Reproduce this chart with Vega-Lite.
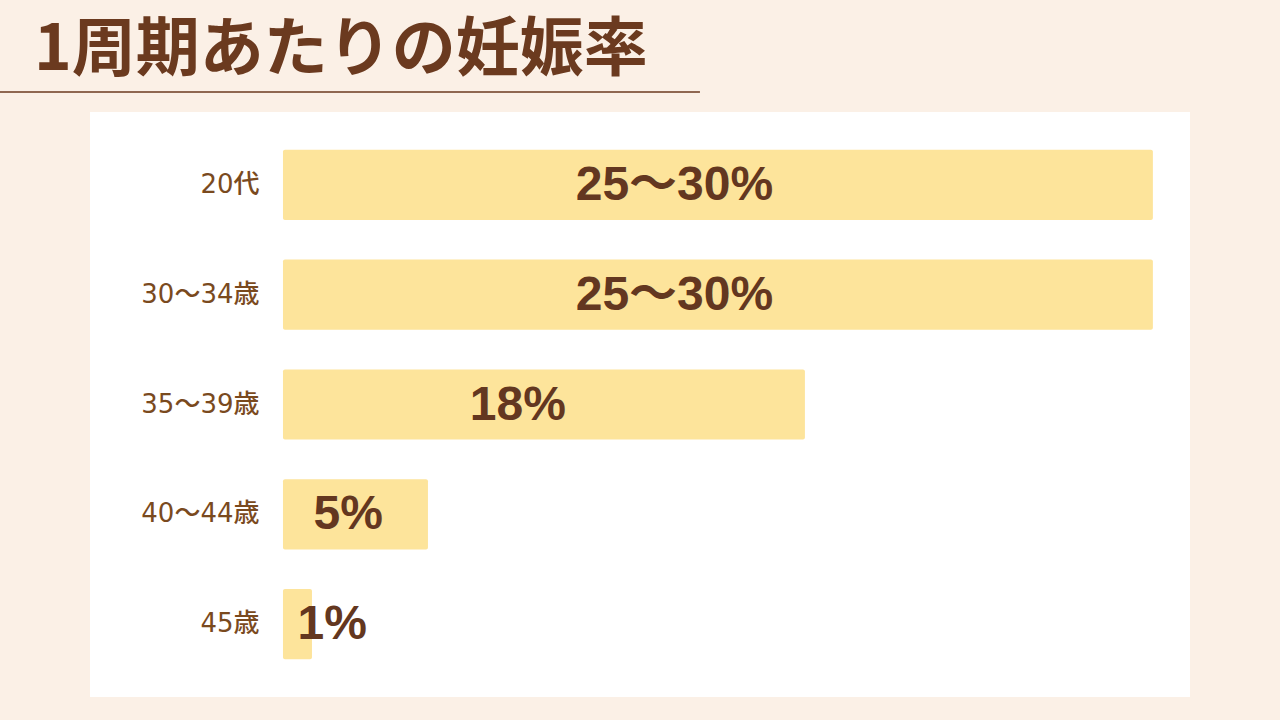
{
  "$schema": "https://vega.github.io/schema/vega-lite/v6.json",
  "autosize": "none",
  "width": 1100,
  "height": 585,
  "padding": {"left": 90, "top": 112, "right": 90, "bottom": 23},
  "background": "#FBF0E6",
  "view": {"fill": "#FFFFFF", "stroke": null},
  "title": {
    "text": "1周期あたりの妊娠率",
    "anchor": "start",
    "frame": "group",
    "dx": -56,
    "offset": -56,
    "baseline": "bottom",
    "font": "Noto Sans CJK JP",
    "fontSize": 64,
    "fontWeight": "bold",
    "color": "#6B3A1F"
  },
  "data": {
    "values": [
      {"age": "20代", "value": 30, "label": "25〜30%"},
      {"age": "30〜34歳", "value": 30, "label": "25〜30%"},
      {"age": "35〜39歳", "value": 18, "label": "18%"},
      {"age": "40〜44歳", "value": 5, "label": "5%"},
      {"age": "45歳", "value": 1, "label": "1%"}
    ]
  },
  "encoding": {
    "y": {
      "field": "age",
      "type": "nominal",
      "sort": null,
      "scale": {"paddingInner": 0.36, "paddingOuter": 0.345},
      "axis": {
        "title": null,
        "orient": "left",
        "offset": -172,
        "labelPadding": 3,
        "ticks": false,
        "domain": false,
        "labelFont": "DejaVu Sans, Noto Sans CJK JP",
        "labelFontSize": 26,
        "labelFontWeight": 500,
        "labelColor": "#7A4A1E"
      }
    }
  },
  "layer": [
    {
      "mark": {"type": "bar", "color": "#FDE49B", "cornerRadius": 2},
      "encoding": {
        "x": {
          "field": "value",
          "type": "quantitative",
          "scale": {"domain": [-6.655, 31.28], "nice": false, "zero": false},
          "axis": null
        },
        "x2": {"datum": 0}
      }
    },
    {
      "transform": [
        {"calculate": "max(datum.value * 0.45, 1.7)", "as": "labelX"}
      ],
      "mark": {
        "type": "text",
        "align": "center",
        "baseline": "alphabetic",
        "dy": 15,
        "font": "Liberation Sans, Noto Sans CJK JP",
        "fontSize": 48,
        "fontWeight": "bold",
        "color": "#633720"
      },
      "encoding": {
        "x": {"field": "labelX", "type": "quantitative"},
        "text": {"field": "label"}
      }
    },
    {
      "data": {"values": [{}]},
      "mark": {"type": "rule", "color": "#6B3A1F", "strokeWidth": 1.5, "clip": false},
      "encoding": {
        "x": {"datum": -9.76},
        "x2": {"datum": 14.38},
        "y": {"value": -20}
      }
    }
  ]
}
